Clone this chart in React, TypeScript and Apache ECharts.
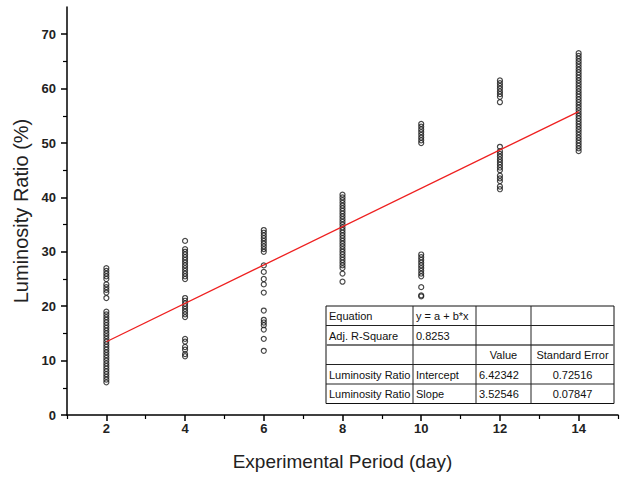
import React, { useEffect, useRef } from "react";
import * as echarts from "echarts";

// ---- data ----
const day2 = [27.0, 26.5, 26.0, 25.5, 25.0, 24.0, 23.5, 23.0, 22.5, 21.5,
  19.0, 18.5, 18.0, 17.5, 17.0, 16.5, 16.0, 15.5, 15.0, 14.5, 14.0, 13.5, 13.0,
  12.5, 12.0, 11.5, 11.0, 10.5, 10.0, 9.5, 9.0, 8.5, 8.0, 7.5, 7.0, 6.5, 6.0];
const day4 = [32.0, 30.5, 30.0, 29.5, 29.0, 28.5, 28.0, 27.5, 27.0, 26.5, 26.0, 25.5, 25.0,
  21.5, 21.0, 20.5, 20.0, 19.5, 19.0, 18.5, 18.0,
  14.0, 13.5, 12.5, 12.0, 11.2, 10.8];
const day6 = [34.0, 33.5, 33.0, 32.5, 32.0, 31.5, 31.0, 30.5, 30.0,
  27.5, 26.3, 25.0, 24.0, 22.5, 19.2, 17.5, 17.0, 16.5, 15.7, 14.0, 11.8];
const day8 = [40.5, 40.0, 39.5, 39.0, 38.5, 38.0, 37.5, 37.0, 36.5, 36.0, 35.5, 35.0,
  34.5, 34.0, 33.5, 33.0, 32.5, 32.0, 31.5, 31.0, 30.5, 30.0, 29.5, 29.0, 28.5,
  28.0, 27.5, 27.0, 26.0, 24.5];
const day10 = [53.5, 53.0, 52.5, 52.0, 51.5, 51.0, 50.5, 50.0,
  29.5, 29.0, 28.5, 28.0, 27.5, 27.0, 26.5, 26.0, 25.5, 23.5, 22.0, 21.8];
const day12 = [61.5, 61.0, 60.5, 60.0, 59.5, 59.0, 58.5, 57.5,
  49.3, 48.5, 48.0, 47.5, 47.0, 46.5, 46.0, 45.5, 45.0, 44.0, 43.5, 43.0, 42.0, 41.5];
const day14 = [66.5, 66.0, 65.5, 65.0, 64.5, 64.0, 63.5, 63.0, 62.5, 62.0, 61.5, 61.0,
  60.5, 60.0, 59.5, 59.0, 58.5, 58.0, 57.5, 57.0, 56.5, 56.0, 55.5, 55.0, 54.5,
  54.0, 53.5, 53.0, 52.5, 52.0, 51.5, 51.0, 50.5, 50.0, 49.5, 49.0, 48.5];

const days = [2, 4, 6, 8, 10, 12, 14];
const dayValues = [day2, day4, day6, day8, day10, day12, day14];

// linear fit line endpoints
const fitX = [2, 14];
const fitY = [13.47, 55.78];

// axis ticks
const xMajor = [2, 4, 6, 8, 10, 12, 14];
const xMinor = [1, 3, 5, 7, 9, 11, 13, 15];
const yMajor = [0, 10, 20, 30, 40, 50, 60, 70];
const yMinor = [5, 15, 25, 35, 45, 55, 65];

// fit statistics table
const tableRows = [
  ["Equation", "y = a + b*x", "", ""],
  ["Adj. R-Square", "0.8253", "", ""],
  ["", "", "Value", "Standard Error"],
  ["Luminosity Ratio", "Intercept", "6.42342", "0.72516"],
  ["Luminosity Ratio", "Slope", "3.52546", "0.07847"],
];

export default function App() {
  const ref = useRef<HTMLDivElement>(null);

  useEffect(() => {
    if (!ref.current) return;
    const chart = echarts.init(ref.current, null, { renderer: "svg" });

    const scatterData: number[][] = [];
    days.forEach((d, i) => dayValues[i].forEach((v) => scatterData.push([d, v])));

    const font = "Arial, 'Liberation Sans', sans-serif";

    // table graphics
    const tx = [326, 413, 476, 531, 614];
    const ty = [306, 325.5, 345, 364.5, 384, 403.5];
    const g: any[] = [];
    g.push({
      type: "rect",
      shape: { x: tx[0], y: ty[0], width: tx[4] - tx[0], height: ty[5] - ty[0] },
      style: { fill: "#fff", stroke: "#111", lineWidth: 1 },
      z: 10,
    });
    for (let i = 1; i < 5; i++) {
      g.push({
        type: "line",
        shape: { x1: tx[0], y1: ty[i], x2: tx[4], y2: ty[i] },
        style: { stroke: i === 2 ? "#777" : "#222", lineWidth: i === 2 ? 2 : 1 },
        z: 11,
      });
    }
    for (let j = 1; j < 4; j++) {
      g.push({
        type: "line",
        shape: { x1: tx[j], y1: ty[0], x2: tx[j], y2: ty[5] },
        style: { stroke: "#222", lineWidth: 1 },
        z: 11,
      });
    }
    tableRows.forEach((row, r) => {
      row.forEach((txt, c) => {
        if (!txt) return;
        const centered = c === 3 || (r === 2 && c === 2);
        g.push({
          type: "text",
          x: centered ? (tx[c] + tx[c + 1]) / 2 : tx[c] + 3,
          y: (ty[r] + ty[r + 1]) / 2 + 0.5,
          style: {
            text: txt,
            fill: "#111",
            font: `11px ${font}`,
            textAlign: centered ? "center" : "left",
            textVerticalAlign: "middle",
          },
          z: 12,
        });
      });
    });

    const labelStyle = { color: "#222", fontSize: 13, fontWeight: "bold" as const, fontFamily: font };
    const lineStyle = { color: "#000", width: 1.5 };

    chart.setOption({
      animation: false,
      backgroundColor: "#fff",
      grid: { left: 67, right: 5, top: 7, bottom: 65 },
      xAxis: [
        {
          type: "value",
          min: 1,
          max: 15,
          interval: 1,
          position: "bottom",
          name: "Experimental Period (day)",
          nameLocation: "middle",
          nameGap: 37,
          nameTextStyle: { fontSize: 19, color: "#222", fontFamily: font },
          axisLine: { onZero: false, lineStyle },
          axisTick: { customValues: xMajor, length: 6, lineStyle: { color: "#000", width: 1.5 } },
          axisLabel: { customValues: xMajor, margin: 7, ...labelStyle },
          splitLine: { show: false },
        },
        {
          type: "value",
          min: 1,
          max: 15,
          position: "bottom",
          axisLine: { show: false, onZero: false },
          axisTick: { customValues: xMinor, length: 4, lineStyle: { color: "#000", width: 1.2 } },
          axisLabel: { show: false },
          splitLine: { show: false },
        },
      ],
      yAxis: [
        {
          type: "value",
          min: 0,
          max: 75,
          interval: 10,
          position: "left",
          name: "Luminosity Ratio (%)",
          nameLocation: "middle",
          nameGap: 36,
          nameTextStyle: { fontSize: 20, color: "#222", fontFamily: font },
          axisLine: { show: true, onZero: false, lineStyle },
          axisTick: { show: true, customValues: yMajor, length: 6, lineStyle: { color: "#000", width: 1.5 } },
          axisLabel: { customValues: yMajor, margin: 11, ...labelStyle },
          splitLine: { show: false },
        },
        {
          type: "value",
          min: 0,
          max: 75,
          position: "left",
          axisLine: { show: false, onZero: false },
          axisTick: { show: true, customValues: yMinor, length: 4, lineStyle: { color: "#000", width: 1.2 } },
          axisLabel: { show: false },
          splitLine: { show: false },
        },
      ],
      series: [
        {
          type: "scatter",
          xAxisIndex: 0,
          yAxisIndex: 0,
          data: scatterData,
          symbol: "circle",
          symbolSize: 5,
          itemStyle: { color: "rgba(255,255,255,0)", borderColor: "#1a1a1a", borderWidth: 1.2 },
          z: 3,
        },
        {
          type: "line",
          xAxisIndex: 0,
          yAxisIndex: 0,
          data: fitX.map((x, i) => [x, fitY[i]]),
          symbol: "none",
          lineStyle: { color: "#ee2020", width: 1.3 },
          z: 4,
        },
      ],
      graphic: g,
    });

    return () => chart.dispose();
  }, []);

  return (
    <div
      ref={ref}
      style={{ position: "fixed", left: 0, top: 0, width: 623, height: 480 }}
    />
  );
}
